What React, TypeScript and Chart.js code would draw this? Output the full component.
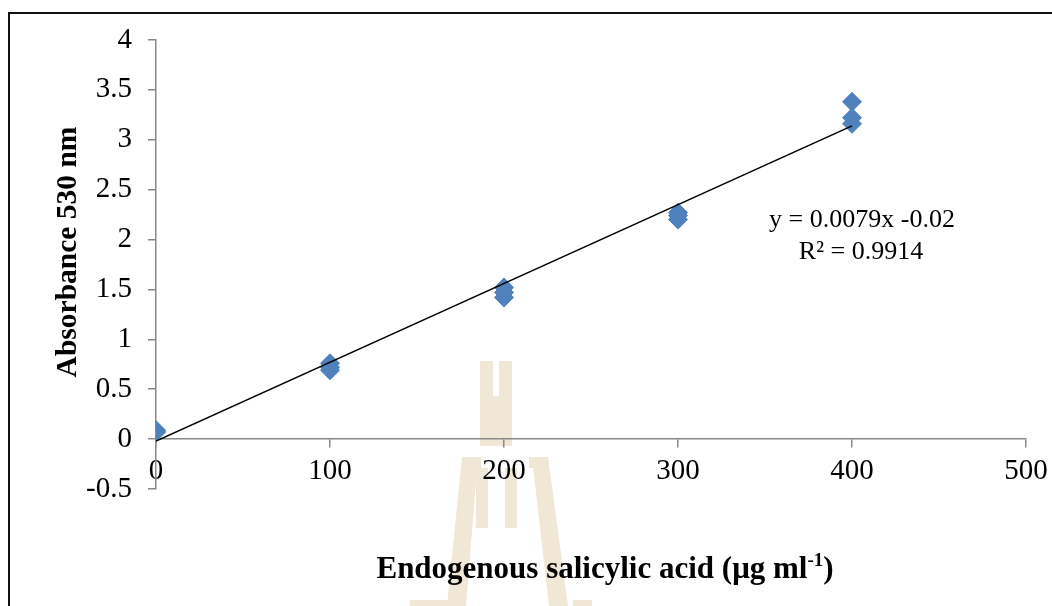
import React, { useEffect, useRef } from "react";
import { Chart, registerables } from "chart.js";

Chart.register(...registerables);

// ---- data ----
const concentrations = [0, 0, 0, 100, 100, 100, 200, 200, 200, 300, 300, 300, 400, 400, 400];
const absorbance = [0.09, 0.08, 0.07, 0.76, 0.72, 0.69, 1.52, 1.47, 1.42, 2.27, 2.24, 2.2, 3.38, 3.22, 3.16];
const xTicks = [0, 100, 200, 300, 400, 500];
const yTicks = [-0.5, 0, 0.5, 1, 1.5, 2, 2.5, 3, 3.5, 4];
const trendSlope = 0.0079;
const trendIntercept = -0.02;
const equationLines = ["y = 0.0079x -0.02", "R² = 0.9914"];
const xTitleMain = "Endogenous salicylic acid (μg ml";
const xTitleSup = "-1";
const xTitleEnd = ")";
const yTitle = "Absorbance 530 nm";

const SERIF = "'Liberation Serif', 'Times New Roman', serif";
const CANVAS_W = 1042;
const CANVAS_H = 592;
// page offset of canvas origin (wrapper at 8,12 with 2px border)
const OX = 10;
const OY = 14;

const watermarkPlugin = {
  id: "watermark",
  beforeDraw(chart: any) {
    const ctx = chart.ctx;
    ctx.save();
    ctx.translate(-OX, -OY);
    ctx.fillStyle = "#F0E7D6";
    const rect = (x1: number, y1: number, x2: number, y2: number) => ctx.fillRect(x1, y1, x2 - x1, y2 - y1);
    // upper column
    rect(480, 361, 493, 446);
    rect(499, 361, 512, 446);
    rect(493, 396, 499, 446);
    // shoulders
    rect(462, 457, 481, 468);
    rect(529, 457, 548, 468);
    // lower inner bars
    rect(476, 468, 488, 528);
    rect(505, 468, 517, 528);
    // legs
    ctx.beginPath();
    ctx.moveTo(462, 457);
    ctx.lineTo(478, 457);
    ctx.lineTo(466, 606);
    ctx.lineTo(447, 606);
    ctx.closePath();
    ctx.fill();
    ctx.beginPath();
    ctx.moveTo(532, 457);
    ctx.lineTo(548, 457);
    ctx.lineTo(568, 606);
    ctx.lineTo(549, 606);
    ctx.closePath();
    ctx.fill();
    // feet
    rect(410, 600, 455, 606);
    rect(573, 600, 592, 606);
    ctx.restore();
  },
};

const textPlugin = {
  id: "texts",
  afterDraw(chart: any) {
    const ctx = chart.ctx;
    ctx.save();
    ctx.translate(-OX, -OY);
    ctx.fillStyle = "#000";

    // equation
    ctx.font = `26px ${SERIF}`;
    ctx.textAlign = "center";
    ctx.textBaseline = "middle";
    ctx.fillText(equationLines[0], 862, 220);
    ctx.fillText(equationLines[1], 861, 252);

    // y title
    ctx.save();
    ctx.translate(68, 252);
    ctx.rotate(-Math.PI / 2);
    ctx.font = `bold 29.5px ${SERIF}`;
    ctx.textAlign = "center";
    ctx.textBaseline = "middle";
    ctx.fillText(yTitle, 0, 0);
    ctx.restore();

    // x title with superscript
    const mainFont = `bold 31px ${SERIF}`;
    const supFont = `bold 19px ${SERIF}`;
    ctx.font = mainFont;
    const w1 = ctx.measureText(xTitleMain).width;
    const w3 = ctx.measureText(xTitleEnd).width;
    ctx.font = supFont;
    const w2 = ctx.measureText(xTitleSup).width;
    const total = w1 + w2 + w3;
    let x = 605 - total / 2;
    const baseY = 578;
    ctx.textAlign = "left";
    ctx.textBaseline = "alphabetic";
    ctx.font = mainFont;
    ctx.fillText(xTitleMain, x, baseY);
    x += w1;
    ctx.font = supFont;
    ctx.fillText(xTitleSup, x, baseY - 12);
    x += w2;
    ctx.font = mainFont;
    ctx.fillText(xTitleEnd, x, baseY);
    ctx.restore();
  },
};

export default function App() {
  const ref = useRef<HTMLCanvasElement | null>(null);

  useEffect(() => {
    if (!ref.current) return;
    const points = concentrations.map((c, i) => ({ x: c, y: absorbance[i] }));
    const xMin = Math.min(...concentrations);
    const xMax = Math.max(...concentrations);
    const trend = [
      { x: xMin, y: trendSlope * xMin + trendIntercept },
      { x: xMax, y: trendSlope * xMax + trendIntercept },
    ];
    const axisColor = "#888888";
    const chart = new Chart(ref.current, {
      type: "scatter",
      data: {
        datasets: [
          {
            label: "Linear",
            data: trend,
            showLine: true,
            borderColor: "#000000",
            borderWidth: 1.5,
            pointRadius: 0,
            pointHoverRadius: 0,
          } as any,
          {
            label: "Absorbance",
            data: points,
            pointStyle: "rectRot",
            pointRadius: 9.5,
            pointHoverRadius: 9.5,
            backgroundColor: "#4F81BD",
            borderColor: "#4F81BD",
            borderWidth: 1,
          } as any,
        ],
      },
      options: {
        responsive: false,
        animation: false,
        layout: { padding: { left: 0, top: 26, right: 26, bottom: 117 } },
        plugins: {
          legend: { display: false },
          tooltip: { enabled: false },
          title: { display: false },
        },
        scales: {
          x: {
            type: "linear",
            position: { y: 0 } as any,
            min: 0,
            max: 500,
            afterBuildTicks: (s: any) => {
              s.ticks = xTicks.map((v) => ({ value: v }));
            },
            afterFit: (s: any) => {
              s.paddingLeft = 0;
              s.paddingRight = 0;
            },
            grid: {
              display: true,
              drawOnChartArea: false,
              drawTicks: true,
              tickLength: 8,
              color: axisColor,
              lineWidth: 1.5,
            },
            border: { display: true, color: axisColor, width: 1.5 },
            ticks: {
              color: "#000",
              font: { family: SERIF, size: 29 },
              padding: 7,
              maxRotation: 0,
              callback: (v: any) => String(v),
            },
          },
          y: {
            type: "linear",
            position: "left",
            min: -0.5,
            max: 4,
            afterBuildTicks: (s: any) => {
              s.ticks = yTicks.map((v) => ({ value: v }));
            },
            afterFit: (s: any) => {
              s.width = 146;
              s.paddingTop = 0;
              s.paddingBottom = 0;
            },
            grid: {
              display: true,
              drawOnChartArea: false,
              drawTicks: true,
              tickLength: 8,
              color: axisColor,
              lineWidth: 1.5,
            },
            border: { display: true, color: axisColor, width: 1.5 },
            ticks: {
              color: "#000",
              font: { family: SERIF, size: 29 },
              padding: 16,
              callback: (v: any) => String(v),
            },
          },
        },
      },
      plugins: [watermarkPlugin, textPlugin],
    });
    return () => chart.destroy();
  }, []);

  return (
    <div
      style={{
        position: "absolute",
        left: 8,
        top: 12,
        width: 1044,
        height: 594,
        borderLeft: "2px solid #111",
        borderTop: "2px solid #111",
        background: "#fff",
        overflow: "hidden",
      }}
    >
      <canvas ref={ref} width={CANVAS_W} height={CANVAS_H} style={{ display: "block" }} />
    </div>
  );
}
